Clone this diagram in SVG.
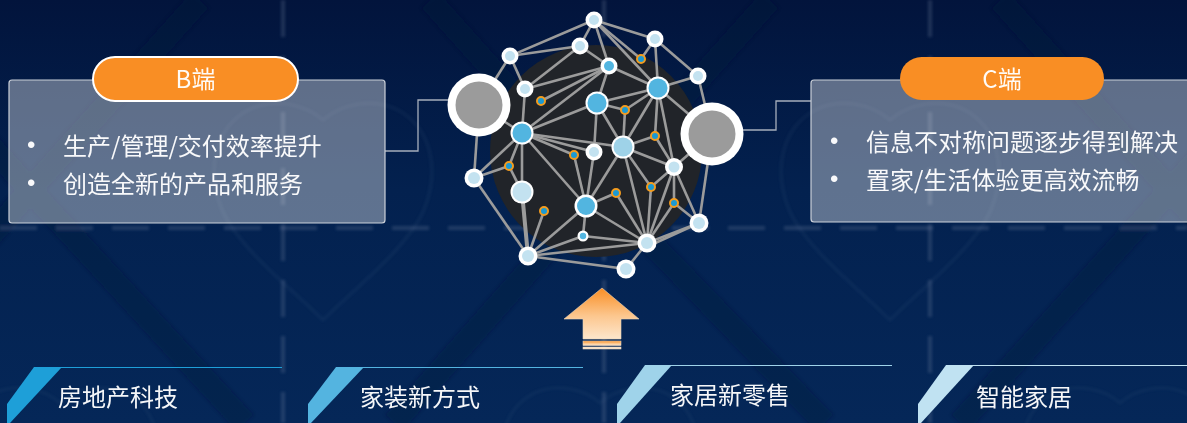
<svg xmlns="http://www.w3.org/2000/svg" width="1187" height="423" viewBox="0 0 1187 423">
<style>
  text { font-family: "Noto Sans CJK SC", "Liberation Sans", sans-serif; fill: #fff; font-size: 24px; font-weight: 400; fill-opacity: .96; }
  .mid { text-anchor: middle; }
  .dot { font-family: "Liberation Sans", sans-serif; }
  .panel { fill: #fff; fill-opacity: .37; stroke: #ccd1d9; stroke-width: 1.2; }
  .pill { fill: #f98e24; }
  .wire { fill: none; stroke: #a7afbc; stroke-width: 1.3; }
  .e line { stroke: #9b9b9b; stroke-width: 2.6; }
  .ring { fill: #fff; }
  .pale { fill: #c3e2f0; }
  .sky { fill: #9ed2e8; }
  .blue { fill: #52b5e0; }
  .hub { fill: #9b9b9b; }
  .o { fill: #1b9ad3; stroke: #f39c1f; stroke-width: 2; }
  .heart { fill: none; stroke: #8fa6c8; stroke-opacity: .07; stroke-width: 3; }
  .band { stroke: #011538; stroke-opacity: .3; stroke-width: 24; fill: none; }
  .dash { stroke: #8c9ab4; stroke-opacity: .22; stroke-width: 4; stroke-dasharray: 37 19; fill: none; }
</style>
<defs>
  <linearGradient id="sky" x1="0" y1="0" x2="0" y2="1">
    <stop offset="0" stop-color="#02143c"/>
    <stop offset=".45" stop-color="#03214f"/>
    <stop offset="1" stop-color="#052758"/>
  </linearGradient>
  <linearGradient id="up" x1="0" y1="0" x2="0" y2="1">
    <stop offset="0" stop-color="#f98e24"/>
    <stop offset=".55" stop-color="#fcc78f"/>
    <stop offset="1" stop-color="#fde6cc"/>
  </linearGradient>
  <filter id="soft" x="-5%" y="-5%" width="110%" height="110%"><feGaussianBlur stdDeviation="1.6"/></filter>
  <path id="heart" d="M0 20C-18 4 -50 -3 -75 10C-108 28 -118 70 -100 112C-82 150 -30 190 0 220C30 190 82 150 100 112C118 70 108 28 75 10C50 -3 18 4 0 20Z"/>
</defs>

<!-- backdrop -->
<rect width="1187" height="423" fill="url(#sky)"/>
<g filter="url(#soft)">
  <path class="band" d="M394 423L600 190L825 423M430 0L600 190L770 0"/>
  <path class="band" d="M245 423L30 190L-170 423M-140 0L30 190L200 0"/>
  <path class="band" d="M960 423L1170 190L1380 423M1000 0L1170 190L1340 0"/>
  <path class="dash" d="M283 0V423M604 0V423M930 0V423"/>
  <path class="dash" d="M0 228H1187"/>
  <use href="#heart" class="heart" transform="translate(323 100)"/>
  <use href="#heart" class="heart" transform="translate(890 100)"/>
  <use href="#heart" class="heart" transform="translate(600 385) scale(.9)"/>
  <use href="#heart" class="heart" transform="translate(1120 385) scale(.9)"/>
  <use href="#heart" class="heart" transform="translate(60 385) scale(.9)"/>
</g>

<!-- network backing disc -->
<circle cx="596" cy="151" r="106" fill="#212429"/>

<!-- connectors -->
<g id="connectors">
  <path class="wire" d="M385 151H418V100H450"/>
  <path class="wire" d="M741 130H776V101H811"/>
  <g class="e">
    <line x1="594" y1="20" x2="510" y2="56"/><line x1="594" y1="20" x2="580" y2="46"/>
    <line x1="594" y1="20" x2="609" y2="66"/><line x1="594" y1="20" x2="658" y2="88"/>
    <line x1="594" y1="20" x2="655" y2="39"/><line x1="594" y1="20" x2="641" y2="59"/>
    <line x1="510" y1="56" x2="580" y2="46"/><line x1="580" y1="46" x2="525" y2="89"/>
    <line x1="580" y1="46" x2="609" y2="66"/><line x1="510" y1="56" x2="525" y2="89"/>
    <line x1="510" y1="56" x2="479" y2="105"/><line x1="655" y1="39" x2="641" y2="59"/>
    <line x1="655" y1="39" x2="658" y2="88"/><line x1="655" y1="39" x2="698" y2="76"/>
    <line x1="609" y1="66" x2="525" y2="89"/><line x1="609" y1="66" x2="541" y2="101"/>
    <line x1="609" y1="66" x2="522" y2="133"/><line x1="609" y1="66" x2="597" y2="103"/>
    <line x1="609" y1="66" x2="658" y2="88"/><line x1="658" y1="88" x2="698" y2="76"/>
    <line x1="698" y1="76" x2="712" y2="134"/><line x1="658" y1="88" x2="597" y2="103"/>
    <line x1="658" y1="88" x2="625" y2="110"/><line x1="597" y1="103" x2="625" y2="110"/>
    <line x1="597" y1="103" x2="522" y2="133"/><line x1="597" y1="103" x2="594" y2="152"/>
    <line x1="597" y1="103" x2="623" y2="147"/><line x1="625" y1="110" x2="623" y2="147"/>
    <line x1="658" y1="88" x2="623" y2="147"/><line x1="623" y1="147" x2="655" y2="136"/>
    <line x1="658" y1="88" x2="712" y2="134"/><line x1="658" y1="88" x2="674" y2="167"/>
    <line x1="658" y1="88" x2="655" y2="136"/><line x1="655" y1="136" x2="674" y2="167"/>
    <line x1="479" y1="105" x2="522" y2="133"/><line x1="479" y1="105" x2="474" y2="178"/>
    <line x1="525" y1="89" x2="522" y2="133"/><line x1="522" y1="133" x2="623" y2="147"/>
    <line x1="522" y1="133" x2="594" y2="152"/><line x1="522" y1="133" x2="574" y2="155"/>
    <line x1="522" y1="133" x2="474" y2="178"/><line x1="522" y1="133" x2="509" y2="166"/>
    <line x1="522" y1="133" x2="522" y2="192"/><line x1="522" y1="133" x2="586" y2="206"/>
    <line x1="574" y1="155" x2="586" y2="206"/><line x1="594" y1="152" x2="586" y2="206"/>
    <line x1="623" y1="147" x2="586" y2="206"/><line x1="623" y1="147" x2="647" y2="243"/>
    <line x1="623" y1="147" x2="674" y2="167"/><line x1="623" y1="147" x2="651" y2="187"/>
    <line x1="674" y1="167" x2="712" y2="134"/><line x1="674" y1="167" x2="651" y2="187"/>
    <line x1="674" y1="167" x2="647" y2="243"/><line x1="674" y1="167" x2="674" y2="203"/>
    <line x1="674" y1="167" x2="699" y2="223"/><line x1="674" y1="203" x2="699" y2="223"/>
    <line x1="651" y1="187" x2="647" y2="243"/><line x1="674" y1="203" x2="647" y2="243"/>
    <line x1="616" y1="193" x2="586" y2="206"/><line x1="616" y1="193" x2="647" y2="243"/>
    <line x1="586" y1="206" x2="647" y2="243"/><line x1="586" y1="206" x2="528" y2="256"/>
    <line x1="586" y1="206" x2="583" y2="236"/><line x1="583" y1="236" x2="528" y2="256"/>
    <line x1="583" y1="236" x2="647" y2="243"/><line x1="528" y1="256" x2="647" y2="243"/>
    <line x1="528" y1="256" x2="626" y2="269"/><line x1="626" y1="269" x2="647" y2="243"/>
    <line x1="528" y1="256" x2="522" y2="192" style="stroke-width:4"/><line x1="528" y1="256" x2="544" y2="211"/>
    <line x1="528" y1="256" x2="474" y2="178"/><line x1="699" y1="223" x2="647" y2="243"/>
    <line x1="699" y1="223" x2="640" y2="250"/><line x1="712" y1="134" x2="699" y2="223"/>
    <line x1="474" y1="178" x2="509" y2="166"/><line x1="509" y1="166" x2="522" y2="192"/>
  </g>
</g>

<!-- network nodes -->
<g id="n-top"><circle class="ring" cx="594" cy="20" r="8.5"/><circle class="pale" cx="594" cy="20" r="5"/></g>
<g id="n-a"><circle class="ring" cx="580" cy="46" r="8.5"/><circle class="pale" cx="580" cy="46" r="5"/></g>
<g id="n-b"><circle class="ring" cx="510" cy="56" r="8.5"/><circle class="pale" cx="510" cy="56" r="5"/></g>
<g id="n-c"><circle class="ring" cx="655" cy="39" r="8.5"/><circle class="pale" cx="655" cy="39" r="5"/></g>
<g id="n-d"><circle class="ring" cx="609" cy="66" r="8.5"/><circle class="blue" cx="609" cy="66" r="5"/></g>
<g id="n-e"><circle class="ring" cx="698" cy="76" r="8.5"/><circle class="pale" cx="698" cy="76" r="5"/></g>
<g id="n-f"><circle class="ring" cx="525" cy="89" r="8.5"/><circle class="pale" cx="525" cy="89" r="5"/></g>
<g id="n-g"><circle class="ring" cx="658" cy="88" r="11.5"/><circle class="blue" cx="658" cy="88" r="9.5"/></g>
<g id="n-h"><circle class="ring" cx="597" cy="103" r="11.5"/><circle class="blue" cx="597" cy="103" r="9.5"/></g>
<g id="n-i"><circle class="ring" cx="522" cy="133" r="11.5"/><circle class="blue" cx="522" cy="133" r="9.5"/></g>
<g id="n-j"><circle class="ring" cx="623" cy="147" r="11.5"/><circle class="sky" cx="623" cy="147" r="9.5"/></g>
<g id="n-k"><circle class="ring" cx="594" cy="152" r="8.5"/><circle class="pale" cx="594" cy="152" r="5"/></g>
<g id="n-m"><circle class="ring" cx="674" cy="167" r="9"/><circle class="pale" cx="674" cy="167" r="5.5"/></g>
<g id="n-p"><circle class="ring" cx="474" cy="178" r="9.5"/><circle class="pale" cx="474" cy="178" r="6"/></g>
<g id="n-q"><circle class="ring" cx="522" cy="192" r="11.5"/><circle class="pale" cx="522" cy="192" r="9.5"/></g>
<g id="n-s"><circle class="ring" cx="586" cy="206" r="11.5"/><circle class="blue" cx="586" cy="206" r="9"/></g>
<g id="n-u"><circle class="ring" cx="699" cy="223" r="9.5"/><circle class="pale" cx="699" cy="223" r="6"/></g>
<g id="n-v"><circle class="ring" cx="583" cy="236" r="5.5"/><circle class="blue" cx="583" cy="236" r="3.2"/></g>
<g id="n-w"><circle class="ring" cx="647" cy="243" r="9.5"/><circle class="pale" cx="647" cy="243" r="6"/></g>
<g id="n-x"><circle class="ring" cx="528" cy="256" r="9.5"/><circle class="pale" cx="528" cy="256" r="6"/></g>
<g id="n-y"><circle class="ring" cx="626" cy="269" r="9.5"/><circle class="pale" cx="626" cy="269" r="6"/></g>
<g id="n-o1"><circle class="o" cx="641" cy="59" r="4"/></g>
<g id="n-o2"><circle class="o" cx="541" cy="101" r="4"/></g>
<g id="n-o3"><circle class="o" cx="625" cy="110" r="4"/></g>
<g id="n-o4"><circle class="o" cx="655" cy="136" r="4"/></g>
<g id="n-o5"><circle class="o" cx="574" cy="155" r="4"/></g>
<g id="n-o6"><circle class="o" cx="509" cy="166" r="4"/></g>
<g id="n-o7"><circle class="o" cx="651" cy="187" r="4"/></g>
<g id="n-o8"><circle class="o" cx="616" cy="193" r="4"/></g>
<g id="n-o9"><circle class="o" cx="674" cy="203" r="4"/></g>
<g id="n-o10"><circle class="o" cx="544" cy="211" r="4"/></g>
<g id="n-left-hub"><circle class="ring" cx="479" cy="105" r="31.5"/><circle class="hub" cx="479" cy="105" r="23.5"/></g>
<g id="n-right-hub"><circle class="ring" cx="712" cy="134" r="31.5"/><circle class="hub" cx="712" cy="134" r="23.5"/></g>

<!-- B side panel -->
<g id="b-panel">
  <rect class="panel" x="9" y="80" width="376" height="143" rx="3"/>
  <rect class="pill" x="93" y="57" width="205" height="44" rx="22" stroke="#fff" stroke-width="2"/>
  <text class="mid" x="195.500" y="88">B端</text>
  <text class="dot" x="27" y="153">•</text><text x="63" y="154.500">生产/管理/交付效率提升</text>
  <text class="dot" x="27" y="191">•</text><text x="63" y="192.500">创造全新的产品和服务</text>
</g>

<!-- C side panel -->
<g id="c-panel">
  <rect class="panel" x="811" y="80" width="380" height="142" rx="3"/>
  <rect class="pill" x="900" y="57" width="204" height="43" rx="21.500"/>
  <text class="mid" x="1002" y="88">C端</text>
  <text class="dot" x="830" y="149">•</text><text x="866" y="151">信息不对称问题逐步得到解决</text>
  <text class="dot" x="830" y="187">•</text><text x="866" y="189">置家/生活体验更高效流畅</text>
</g>

<!-- upward arrow -->
<g id="up-arrow" fill="url(#up)" stroke="#e8d3bb" stroke-width=".6">
  <path d="M602 288L639 319H621V339H583V319H564Z"/>
  <rect x="583" y="341" width="38" height="4.500"/>
  <rect x="583" y="347" width="38" height="2" fill="#fde6cc"/>
</g>

<!-- bottom category tags -->
<g id="tag-proptech">
  <path d="M7 404L34 367H62L10 423H7Z" fill="#1e9fd8"/>
  <path d="M34 367.500H282" stroke="#1e9fd8" stroke-width="1.200"/>
  <text x="58" y="406">房地产科技</text>
</g>
<g id="tag-decoration">
  <path d="M308 404L336 367H364L311 423H308Z" fill="#54b4e0"/>
  <path d="M336 367.500H583" stroke="#54b4e0" stroke-width="1.200"/>
  <text x="360" y="406">家装新方式</text>
</g>
<g id="tag-retail">
  <path d="M617 404L645 365H672L620 423H617Z" fill="#9fd3ea"/>
  <path d="M645 365.500H892" stroke="#9fd3ea" stroke-width="1.200"/>
  <text x="670" y="404">家居新零售</text>
</g>
<g id="tag-smart">
  <path d="M918 404L946 365H974L921 423H918Z" fill="#c0e2f2"/>
  <path d="M946 365.500H1187" stroke="#c0e2f2" stroke-width="1.200"/>
  <text x="976" y="406">智能家居</text>
</g>
</svg>
